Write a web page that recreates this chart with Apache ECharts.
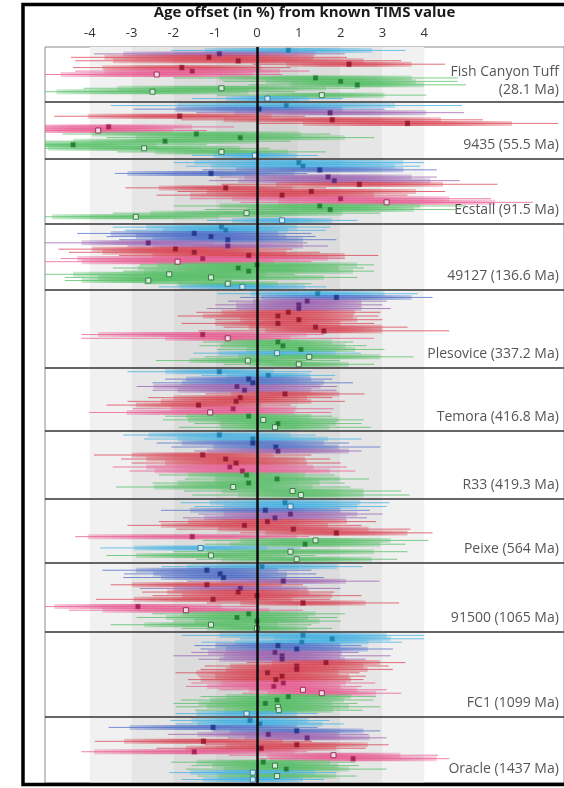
<!DOCTYPE html>
<html><head><meta charset="utf-8">
<script src="https://cdn.jsdelivr.net/npm/echarts@6/dist/echarts.min.js"></script>
<style>html,body{margin:0;padding:0;background:#fff}#c{width:564px;height:788px}</style>
</head><body><div id="c"></div>
<script>
// rows: [offset %, thick half-width, thin half-width, group, open marker]
// groups: 0 cyan, 1 blue, 2 purple, 3 red, 4 pink, 5 green
const fishCanyon = [
 [0.75,2.0,2.8,0,0],[-0.9,2.3,3.0,2,0],[-1.15,2.5,3.3,3,0],[-0.45,3.0,3.9,3,0],[2.2,1.5,2.3,3,0],
 [-1.8,1.9,2.6,3,0],[-1.55,2.1,2.8,4,0],[-2.4,2.3,3.0,4,1],[1.4,2.3,3.4,5,0],[2.0,1.8,2.8,5,0],
 [2.4,1.6,2.6,5,0],[-0.85,2.5,3.3,5,1],[-2.5,2.3,3.4,5,1],[1.55,1.5,2.5,5,1],[0.25,1.0,1.8,0,1]
];
const s9435 = [
 [0.7,2.6,4.2,0,0],[0.05,2.0,3.0,1,0],[1.75,2.3,3.2,2,0],[-1.85,2.2,3.0,3,0],[1.8,2.6,3.6,3,0],
 [3.6,2.5,3.6,3,0],[-3.55,2.0,3.0,4,0],[-3.8,1.8,2.6,4,1],[-1.45,2.5,3.2,5,0],[-0.4,2.5,3.2,5,0],
 [-2.2,2.2,3.0,5,0],[-4.4,2.0,3.2,5,0],[-2.7,2.3,3.0,5,1],[-0.85,1.6,2.5,5,1],[-0.05,1.0,1.5,0,1]
];
const ecstall = [
 [1.0,2.5,3.0,0,0],[1.1,2.2,2.8,0,0],[1.5,2.0,2.8,1,0],[-1.1,2.0,2.3,1,0],[1.7,2.0,2.6,2,0],
 [1.85,2.3,3.0,2,0],[2.45,2.0,3.3,3,0],[-0.75,1.6,2.4,3,0],[1.3,2.5,3.2,3,0],[0.6,2.2,3.0,3,0],
 [2.0,2.6,3.6,4,0],[3.1,2.6,3.5,4,1],[1.5,2.4,3.5,5,0],[1.75,2.0,3.0,5,0],[-0.25,2.3,3.2,5,1],
 [-2.9,2.0,3.5,5,1],[0.6,1.2,1.8,0,1]
];
const s49127 = [
 [-0.85,1.8,2.6,0,0],[-0.75,1.5,2.4,0,0],[-1.5,2.0,2.8,1,0],[-1.1,1.8,2.5,1,0],[-0.7,1.8,2.6,1,0],
 [-2.6,1.6,3.8,2,0],[-0.7,1.8,2.4,2,0],[-1.95,2.0,2.8,3,0],[-1.5,2.2,3.0,3,0],[-0.2,2.3,3.1,3,0],
 [-1.3,3.0,3.4,4,0],[-1.9,2.3,3.2,4,1],[0.0,2.4,2.8,5,0],[-0.45,2.4,3.0,5,0],[-0.2,2.5,3.0,5,0],
 [-2.1,2.3,3.0,5,1],[-1.1,2.7,3.5,5,1],[-2.6,1.6,2.0,5,1],[-0.7,1.2,2.0,5,1],[-0.35,1.5,2.0,0,1]
];
const plesovice = [
 [1.45,1.6,2.4,0,0],[1.9,1.8,2.3,1,0],[1.2,1.3,1.9,2,0],[1.0,1.5,2.0,2,0],[1.0,1.5,2.2,2,0],
 [0.75,1.6,2.2,3,0],[0.5,1.8,2.4,3,0],[1.0,1.4,2.0,3,0],[0.5,1.5,2.3,3,0],[1.4,1.6,2.2,3,0],
 [1.6,1.4,3.0,3,0],[-1.3,2.5,2.9,4,0],[-0.7,1.5,3.5,4,1],[0.5,1.3,1.8,5,0],[0.62,1.5,2.0,5,0],
 [1.05,1.3,2.0,5,0],[0.48,1.4,2.0,0,1],[1.25,1.7,2.5,5,1],[-0.22,1.4,2.2,5,1],[1.0,1.2,1.8,5,1]
];
const temora = [
 [-0.9,1.3,2.2,0,0],[0.27,1.0,1.6,0,0],[-0.2,1.5,2.0,1,0],[-0.1,1.7,2.4,1,0],[-0.48,2.0,2.4,2,0],
 [-0.3,1.6,2.2,2,0],[0.67,1.3,1.9,3,0],[-0.4,1.6,2.2,3,0],[-0.5,1.8,2.6,3,0],[-1.4,1.5,2.2,3,0],
 [-0.57,1.5,2.4,4,0],[-1.12,2.0,2.9,4,1],[-0.2,1.5,2.0,5,0],[0.15,1.8,2.4,5,1],[0.5,1.4,2.0,5,0],
 [0.43,1.3,2.3,5,1]
];
const r33 = [
 [-0.9,1.7,2.3,0,0],[-0.1,1.8,2.6,0,0],[-0.1,1.7,2.3,1,0],[0.45,1.5,2.5,1,0],[0.5,1.7,2.0,2,0],
 [-1.3,1.7,2.6,3,0],[-0.75,1.9,2.5,3,0],[-0.5,1.7,2.5,3,0],[-0.65,2.0,2.8,4,0],[-0.35,2.1,2.7,4,0],
 [-0.25,1.4,2.1,5,0],[0.48,1.5,2.2,5,0],[-0.2,1.7,2.3,5,0],[-0.57,1.9,2.8,5,1],[0.85,1.7,2.6,5,1],
 [1.05,1.5,2.6,5,1]
];
const peixe = [
 [0.67,1.8,2.5,0,0],[0.8,1.6,2.3,0,1],[0.2,1.8,2.5,1,0],[0.8,1.6,2.2,2,0],[0.43,1.7,2.2,2,0],
 [0.25,1.9,2.6,3,0],[-0.3,2.0,2.8,3,0],[0.87,1.8,2.8,3,0],[1.9,1.7,2.3,3,0],[-1.55,2.5,2.8,4,0],
 [1.4,1.8,2.7,5,1],[1.15,1.8,2.4,5,0],[-1.35,1.6,2.4,0,1],[0.8,2.0,2.8,5,1],[-1.1,1.8,2.5,5,1],
 [0.95,1.8,2.4,5,1]
];
const s91500 = [
 [0.12,1.8,2.4,0,0],[-1.2,1.7,2.5,1,0],[-0.88,1.6,2.3,1,0],[-0.8,1.5,2.4,1,0],[0.63,1.5,2.3,2,0],
 [-1.2,1.8,2.3,3,0],[-0.4,1.6,2.4,2,0],[-0.45,1.7,2.3,3,0],[0.0,1.8,2.5,3,0],[-1.05,1.9,2.8,3,0],
 [1.1,1.5,2.3,3,0],[-2.85,2.0,2.9,4,0],[-1.7,2.0,2.8,4,1],[-0.2,1.6,2.3,5,0],[-0.48,1.7,2.4,5,0],
 [0.0,1.5,2.0,5,0],[-1.1,1.6,2.4,5,1],[0.0,1.2,1.8,5,1]
];
const fc1 = [
 [1.1,2.0,2.9,0,0],[1.8,1.4,2.2,0,0],[1.07,1.6,2.4,0,0],[0.5,1.5,2.0,1,0],[0.95,1.7,2.3,1,0],
 [0.43,1.6,2.0,2,0],[0.6,1.4,2.6,2,0],[0.6,1.5,2.0,2,0],[1.65,1.3,1.9,3,0],[0.95,1.6,2.2,3,0],
 [0.95,1.7,2.3,3,0],[0.25,1.7,2.2,3,0],[0.6,1.6,2.0,3,0],[0.45,1.8,2.1,3,0],[0.63,1.5,2.2,4,0],
 [0.4,1.6,2.1,4,0],[1.1,1.3,2.0,4,1],[1.55,1.3,1.9,4,1],[0.75,1.5,2.1,5,0],[0.48,1.6,2.3,5,0],
 [0.2,1.6,2.2,5,0],[0.5,1.7,2.45,5,1],[0.52,1.3,2.0,5,1],[-0.25,1.2,1.7,0,1]
];
const oracle = [
 [-0.17,1.4,1.9,0,0],[0.07,1.5,2.0,0,0],[-1.05,2.0,2.5,1,0],[0.95,1.6,2.0,1,0],[0.27,1.7,2.4,2,0],
 [1.2,1.5,1.9,2,0],[-1.28,1.9,2.6,3,0],[0.95,1.7,2.2,3,0],[0.1,1.8,2.5,3,0],[-1.5,2.4,2.7,4,0],
 [1.83,1.6,2.5,4,1],[2.3,2.0,2.3,4,0],[0.15,1.6,2.2,5,0],[0.43,1.5,2.0,5,1],[0.7,1.5,2.4,5,0],
 [-0.1,1.5,2.0,0,1],[0.48,1.4,1.9,5,1],[-0.1,1.2,1.7,0,1]
];
const panelNames = ['Fish Canyon Tuff\n(28.1 Ma)','9435 (55.5 Ma)','Ecstall (91.5 Ma)','49127 (136.6 Ma)',
 'Plesovice (337.2 Ma)','Temora (416.8 Ma)','R33 (419.3 Ma)','Peixe (564 Ma)','91500 (1065 Ma)',
 'FC1 (1099 Ma)','Oracle (1437 Ma)'];
const panelRows = [fishCanyon,s9435,ecstall,s49127,plesovice,temora,r33,peixe,s91500,fc1,oracle];
const tickValues = [-4,-3,-2,-1,0,1,2,3,4];
const bandEdges = [[-4,-3,3],[-3,-2,2],[-2,-1,1],[-1,1,0],[1,2,1],[2,3,2],[3,4,3]];

// layout (pixel-based panel heights)
const panelSpan = [55,57,65,66,78,63,68,64,69,85,66];
const groupColors = ['#3fb0e3','#4d6cc8','#9a5fb0','#d93f4f','#e8578f','#4fbd60'];
const markerColors = ['#1a6f9c','#1b2b78','#531c66','#80122a','#8f1448','#1d6b2c'];
const bandColors = ['#d4d4d4','#dcdcdc','#e6e6e6','#f1f1f1'];

function rgba(hex,a){const n=parseInt(hex.slice(1),16);return `rgba(${n>>16},${(n>>8)&255},${n&255},${a})`;}

const barData=[], markerData=[], labelData=[], bounds=[0];
let start=0;
panelRows.forEach((rows,p)=>{
  const span=panelSpan[p], pitch=span/(rows.length+1);
  rows.forEach((r,i)=>{
    const y=start+pitch*(i+1);
    barData.push([r[0],y,r[1],r[2],r[3]]);
    markerData.push({value:[r[0],y],itemStyle:r[4]?{color:'#f4f4f4',borderColor:markerColors[r[3]],borderWidth:1}:{color:markerColors[r[3]],borderColor:rgba(groupColors[r[3]],0.9),borderWidth:0.6}});
  });
  start+=span; bounds.push(start);
  labelData.push({value:[7.22,start-(p===0?21:14)],name:panelNames[p]});
});
const total=start;

const chart=echarts.init(document.getElementById('c'),null,{renderer:'canvas'});
chart.setOption({
  animation:false,
  grid:{left:45,right:0,top:47,bottom:788-47-total,show:true,borderColor:'#8a8a8a',borderWidth:1,backgroundColor:'#fff'},
  xAxis:{type:'value',position:'top',min:-5.072,max:7.344,splitLine:{show:false},axisLine:{show:false},axisTick:{show:false},
    axisLabel:{customValues:tickValues,color:'#333',fontSize:13,margin:7,fontFamily:'Open Sans'},
    name:'Age offset (in %) from known TIMS value',nameLocation:'middle',nameGap:27,
    nameTextStyle:{fontWeight:'bold',fontSize:15,color:'#1a1a1a',fontFamily:'Open Sans'}},
  yAxis:{type:'value',inverse:true,min:0,max:total,show:false},
  graphic:[{type:'polyline',shape:{points:[[570,4.5],[23,4.5],[23,784.5],[570,784.5]]},style:{stroke:'#000',lineWidth:3.5,fill:null},z:100}],
  series:[
    {type:'custom',z:1,silent:true,data:bandEdges,clip:true,
     renderItem:(params,api)=>{const a=api.coord([api.value(0),0]),b=api.coord([api.value(1),total]);
       return {type:'rect',shape:{x:a[0],y:a[1],width:b[0]-a[0],height:b[1]-a[1]},style:{fill:bandColors[api.value(2)]}};}},
    {type:'custom',z:2,silent:true,data:barData,clip:true,
     renderItem:(params,api)=>{
       const x=api.value(0),y=api.value(1),t=api.value(2),l=api.value(3),g=api.value(4);
       const c=groupColors[g];
       const pl=api.coord([x-l,y]),pr=api.coord([x+l,y]),tl=api.coord([x-t,y]),tr=api.coord([x+t,y]);
       return {type:'group',children:[
         {type:'line',shape:{x1:pl[0],y1:pl[1],x2:pr[0],y2:pr[1]},style:{stroke:rgba(c,0.75),lineWidth:1}},
         {type:'rect',shape:{x:tl[0],y:tl[1]-2.5,width:tr[0]-tl[0],height:5},
          style:{fill:new echarts.graphic.LinearGradient(0,0,1,0,[{offset:0,color:rgba(c,0.3)},{offset:0.3,color:rgba(c,0.65)},{offset:0.5,color:rgba(c,0.75)},{offset:0.7,color:rgba(c,0.65)},{offset:1,color:rgba(c,0.3)}])}}
       ]};},
     markLine:{silent:true,symbol:['none','none'],label:{show:false},
       data:[...bounds.slice(1,-1).map(v=>({yAxis:v,lineStyle:{color:'#333',width:1.5,type:'solid'}})),
             {xAxis:0,lineStyle:{color:'#0a0a0a',width:2.5,type:'solid'}}]}},
    {type:'scatter',z:4,silent:true,symbol:'rect',symbolSize:5,data:markerData},
    {type:'scatter',z:5,silent:true,symbolSize:0,data:labelData,
     label:{show:true,position:'left',distance:0,formatter:p=>p.name,color:'#2a2a2a',fontSize:14,lineHeight:18,fontFamily:'Open Sans',align:'right'}}
  ]
});
</script></body></html>
